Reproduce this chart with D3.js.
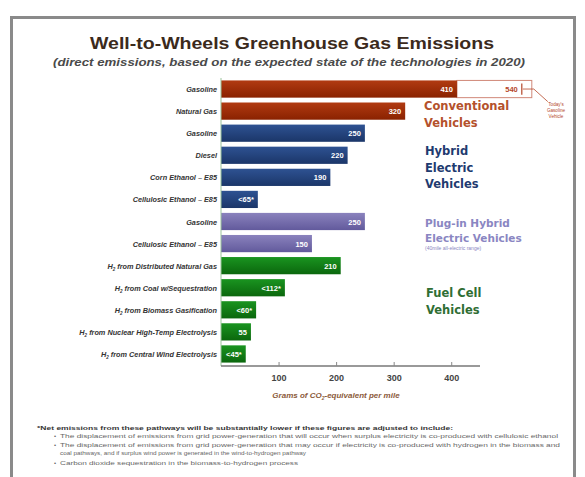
<!DOCTYPE html>
<html><head><meta charset="utf-8">
<script src="https://cdn.jsdelivr.net/npm/d3@7"></script>
<style>body{margin:0;background:#fff;} svg{display:block;font-family:"Liberation Sans",Arial,sans-serif;}</style>
</head><body><svg id="c" width="585" height="477"></svg>
<script>
const categories = ["Gasoline","Natural Gas","Gasoline","Diesel","Corn Ethanol – E85","Cellulosic Ethanol – E85","Gasoline","Cellulosic Ethanol – E85","from Distributed Natural Gas","from Coal w/Sequestration","from Biomass Gasification","from Nuclear High-Temp Electrolysis","from Central Wind Electrolysis"];
const isH2 = [false,false,false,false,false,false,false,false,true,true,true,true,true];
const values = [410,320,250,220,190,64,250,158,208,111,61,52,43];
const valueLabels = ["410","320","250","220","190","<65*","250","150","210","<112*","<60*","55","<45*"];
const groups = ["conv","conv","hev","hev","hev","hev","phev","phev","fc","fc","fc","fc","fc"];
const todayValue = 540;
const ticks = [100,200,300,400];

const svg = d3.select("#c");
const defs = svg.append("defs");
const colors = {conv:["#b13a12","#8a2200"], hev:["#2e5292","#1b3669"], phev:["#8a82bd","#625a9c"], fc:["#1a9420","#0b670d"]};
Object.entries(colors).forEach(([k,c])=>{
  const g = defs.append("linearGradient").attr("id","g_"+k).attr("x1",0).attr("y1",0).attr("x2",0).attr("y2",1);
  g.append("stop").attr("offset","0%").attr("stop-color",c[0]);
  g.append("stop").attr("offset","100%").attr("stop-color",c[1]);
});

// frame
svg.append("rect").attr("x",11.5).attr("y",17.5).attr("width",563).attr("height",470).attr("fill","#fff").attr("stroke","#8a8a8a").attr("stroke-width",3);

svg.append("text").attr("x",292).attr("y",49).attr("text-anchor","middle").attr("font-size",16.5).attr("font-weight",900).attr("fill","#3b2a1c").attr("textLength",404).attr("lengthAdjust","spacingAndGlyphs").text("Well-to-Wheels Greenhouse Gas Emissions");
svg.append("text").attr("x",289).attr("y",66).attr("text-anchor","middle").attr("font-size",10.5).attr("font-style","italic").attr("font-weight","bold").attr("fill","#4a4a4a").attr("textLength",472).attr("lengthAdjust","spacingAndGlyphs").text("(direct emissions, based on the expected state of the technologies in 2020)");

const x = d3.scaleLinear().domain([0,450]).range([221,480]);
const y = d3.scaleBand().domain(d3.range(categories.length)).range([78,365]).paddingInner(0.22).paddingOuter(0.11);

// today's gasoline outline
svg.append("rect").attr("x",x(values[0])).attr("y",y(0)).attr("width",x(todayValue)-x(values[0])).attr("height",y.bandwidth())
  .attr("fill","#fff").attr("stroke","#d08878").attr("stroke-width",1);
svg.append("text").attr("x",x(todayValue)-14).attr("y",y(0)+y.bandwidth()/2+3).attr("text-anchor","end").attr("font-size",7.5).attr("font-weight","bold").attr("fill","#b5472a").text(todayValue);
svg.append("line").attr("x1",x(todayValue)-10).attr("x2",x(todayValue)-10).attr("y1",y(0)+3).attr("y2",y(0)+y.bandwidth()-3).attr("stroke","#b5472a").attr("stroke-width",1.2);
svg.append("path").attr("d",`M${x(todayValue)-9},${y(0)+y.bandwidth()/2} L${x(todayValue)+2},${y(0)+y.bandwidth()/2} M${x(todayValue)+2},${y(0)+y.bandwidth()/2} L${x(todayValue)+16},${y(0)+y.bandwidth()+4}`).attr("stroke","#b5472a").attr("stroke-width",0.8).attr("fill","none");
const today = svg.append("text").attr("font-size",4.6).attr("fill","#b5472a").attr("text-anchor","middle");
["Today's","Gasoline","Vehicle"].forEach((t,i)=>today.append("tspan").attr("x",556).attr("y",106+i*6).text(t));

// bars
svg.selectAll("rect.bar").data(values).join("rect").attr("class","bar")
  .attr("x",x(0)).attr("y",(d,i)=>y(i)).attr("width",d=>x(d)-x(0)).attr("height",y.bandwidth())
  .attr("fill",(d,i)=>`url(#g_${groups[i]})`);
svg.selectAll("text.val").data(values).join("text").attr("class","val")
  .attr("x",d=>x(d)-4).attr("y",(d,i)=>y(i)+y.bandwidth()/2+3).attr("text-anchor","end")
  .attr("font-size",7.5).attr("font-weight","bold").attr("fill","#fff").text((d,i)=>valueLabels[i]);

// category labels
const cl = svg.selectAll("text.cat").data(categories).join("text").attr("class","cat")
  .attr("x",217).attr("y",(d,i)=>y(i)+y.bandwidth()/2+3).attr("text-anchor","end")
  .attr("font-size",7.3).attr("font-weight","bold").attr("font-style","italic").attr("fill","#333");
cl.each(function(d,i){
  const t = d3.select(this);
  if(isH2[i]){ t.append("tspan").text("H"); t.append("tspan").attr("font-size",4.5).attr("dy",2).text("2"); t.append("tspan").attr("dy",-2).text(" "+d); }
  else t.text(d);
});

// y axis line
svg.append("line").attr("x1",x(0)).attr("x2",x(0)).attr("y1",78).attr("y2",366).attr("stroke","#9bc39b").attr("stroke-width",1);

// x axis
const ax = svg.append("g").attr("transform","translate(0,366)").call(d3.axisBottom(x).tickValues(ticks).tickSize(-4).tickPadding(9).tickFormat(d3.format("d")));
ax.select(".domain").attr("stroke","#777").attr("stroke-width",1.5).attr("d",`M${x(0)},0H${x(450)}`);
ax.selectAll(".tick line").attr("stroke","#888");
ax.selectAll(".tick text").attr("font-size",9).attr("font-weight","bold").attr("fill","#444");

const xl = svg.append("text").attr("x",336).attr("y",398).attr("text-anchor","middle").attr("font-size",8).attr("font-style","italic").attr("font-weight","bold").attr("fill","#8b5a3a");
xl.append("tspan").text("Grams of CO");
xl.append("tspan").attr("font-size",5).attr("dy",2).text("2");
xl.append("tspan").attr("dy",-2).text("-equivalent per mile");

// group labels
function glabel(lines,x0,y0,color,size,lh){
  const t = svg.append("text").attr("font-size",size).attr("font-weight",900).attr("fill",color).attr("font-family","'DejaVu Sans',sans-serif");
  lines.forEach((l,i)=>t.append("tspan").attr("x",x0).attr("y",y0+i*lh).text(l));
}
glabel(["Conventional","Vehicles"],424,110,"#b4512c",11.5,16.5);
glabel(["Hybrid","Electric","Vehicles"],425,155,"#1f3b70",11.5,16.5);
glabel(["Plug-in Hybrid","Electric Vehicles"],425,227,"#8a86c2",10.5,15);
svg.append("text").attr("x",425).attr("y",250).attr("font-size",5).attr("fill","#8a86c2").text("(40mile all-electric range)");
glabel(["Fuel Cell","Vehicles"],426,297,"#2f6e34",11.5,16.5);

// footnote
svg.append("text").attr("x",37).attr("y",430).attr("font-size",6.2).attr("font-weight","bold").attr("fill","#333").attr("textLength",416).attr("lengthAdjust","spacingAndGlyphs").text("*Net emissions from these pathways will be substantially lower if these figures are adjusted to include:");
const fn = [
  ["•",438,"The displacement of emissions from grid power-generation that will occur when surplus electricity is co-produced with cellulosic ethanol",498],
  ["•",447,"The displacement of emissions from grid power-generation that may occur if electricity is co-produced with hydrogen in the biomass and",500],
  ["",455,"coal pathways, and if surplus wind power is generated in the wind-to-hydrogen pathway",246],
  ["•",465,"Carbon dioxide sequestration in the biomass-to-hydrogen process",238]
];
fn.forEach(([b,y0,t,len])=>{
  if(b) svg.append("text").attr("x",54).attr("y",y0).attr("font-size",6).attr("fill","#666").text(b);
  svg.append("text").attr("x",60).attr("y",y0).attr("font-size",6).attr("fill","#666").attr("textLength",len).attr("lengthAdjust","spacingAndGlyphs").text(t);
});
</script></body></html>
